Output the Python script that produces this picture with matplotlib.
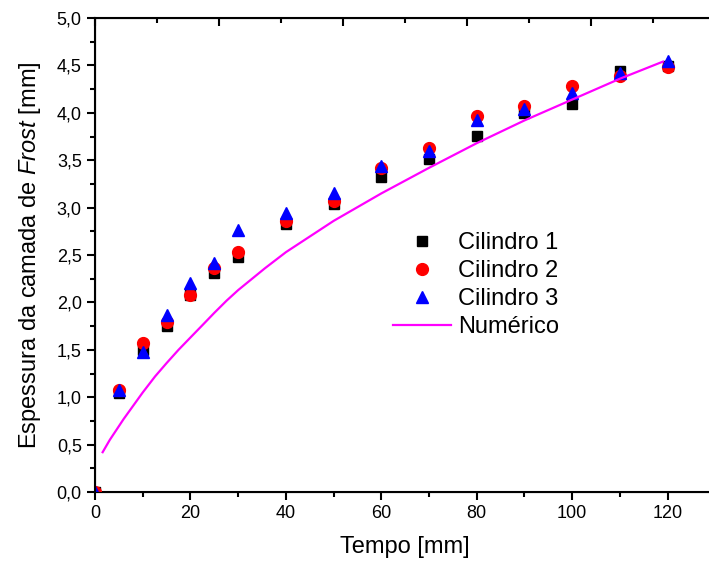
import matplotlib
matplotlib.use("Agg")
import matplotlib.pyplot as plt
import numpy as np
from matplotlib.ticker import MultipleLocator, FuncFormatter

plt.rcParams['font.family'] = ['Liberation Sans', 'DejaVu Sans']
plt.rcParams['mathtext.fontset'] = 'custom'
plt.rcParams['mathtext.rm'] = 'Liberation Sans'
plt.rcParams['mathtext.it'] = 'Liberation Sans:italic'

# experimental points
tempo = [0, 5, 10, 15, 20, 25, 30, 40, 50, 60, 70, 80, 90, 100, 110, 120]
cilindro1 = [0.0, 1.04, 1.50, 1.75, 2.08, 2.31, 2.48, 2.83, 3.04, 3.32, 3.51, 3.76, 4.00, 4.09, 4.44, 4.49]
cilindro2 = [0.0, 1.08, 1.57, 1.79, 2.08, 2.36, 2.53, 2.86, 3.07, 3.42, 3.63, 3.97, 4.07, 4.28, 4.39, 4.48]
cilindro3 = [0.0, 1.08, 1.48, 1.87, 2.21, 2.42, 2.76, 2.94, 3.15, 3.44, 3.60, 3.92, 4.04, 4.21, 4.42, 4.55]

# numerical solution
tempo_num = [1.6, 3.1, 6, 8, 10, 12.6, 15, 17.5, 20, 22.7, 25, 27.6, 30, 35.6, 40,
             50, 60, 70, 80, 90, 100, 110, 119]
numerico = [0.42, 0.55, 0.77, 0.91, 1.05, 1.22, 1.36, 1.50, 1.63, 1.77, 1.89, 2.02, 2.13, 2.36, 2.53,
            2.86, 3.15, 3.42, 3.68, 3.92, 4.14, 4.36, 4.54]

fig = plt.figure(figsize=(7.09, 5.69), dpi=100)
ax = fig.add_axes([0.134, 0.1353, 0.875, 0.833])

ax.plot(tempo, cilindro1, linestyle='none', marker='s', markersize=7.5,
        color='black', label='Cilindro 1', zorder=3)
ax.plot(tempo, cilindro2, linestyle='none', marker='o', markersize=8.5,
        color='#ff0000', label='Cilindro 2', zorder=4)
ax.plot(tempo, cilindro3, linestyle='none', marker='^', markersize=9,
        color='#0000ff', label='Cilindro 3', zorder=5)
ax.plot(tempo_num, numerico, color='#ff00ff', linewidth=1.6,
        label='Numérico', zorder=6)

ax.set_xlim(0, 130)
ax.set_ylim(0, 5)
ax.xaxis.set_major_locator(MultipleLocator(20))
ax.xaxis.set_minor_locator(MultipleLocator(10))
ax.yaxis.set_major_locator(MultipleLocator(0.5))
ax.yaxis.set_minor_locator(MultipleLocator(0.25))
ax.xaxis.set_major_formatter(FuncFormatter(lambda v, p: f"{v:.0f}" if v <= 120 else ""))
ax.yaxis.set_major_formatter(FuncFormatter(lambda v, p: f"{v:.1f}".replace('.', ',')))

ax.tick_params(which='both', direction='out', width=1.5, labelsize=13, top=False, right=False)
ax.tick_params(which='major', length=6)
ax.tick_params(which='minor', length=3.5)
for s in ax.spines.values():
    s.set_linewidth(1.5)

# top axis (ticks only)
ax2 = ax.twiny()
ax2.set_xlim(0, 5)
ax2.xaxis.set_major_locator(MultipleLocator(1))
ax2.xaxis.set_minor_locator(MultipleLocator(0.5))
ax2.tick_params(which='both', direction='in', width=1.5, labeltop=False)
ax2.tick_params(which='major', length=6)
ax2.tick_params(which='minor', length=3.5)

ax.set_xlabel('Tempo [mm]', fontsize=17, labelpad=10)
ax.set_ylabel(r'Espessura da camada de $\it{Frost}$ [mm]', fontsize=17, labelpad=10)

leg = ax.legend(loc='center left', bbox_to_anchor=(393 / 709, 1 - 285 / 569),
                bbox_transform=fig.transFigure, frameon=False, fontsize=17,
                handlelength=2.45, handletextpad=0.3, labelspacing=0.25,
                borderpad=0, borderaxespad=0)

fig.savefig('out.png', dpi=100)
